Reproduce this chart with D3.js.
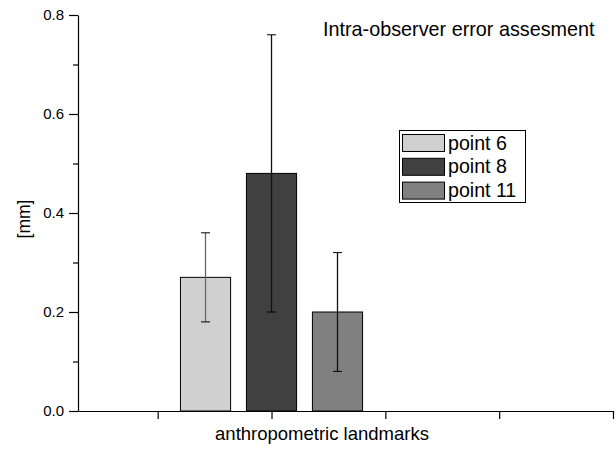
<!DOCTYPE html>
<html>
<head>
<meta charset="utf-8">
<script src="https://cdn.jsdelivr.net/npm/d3@7"></script>
<style>
    body { margin: 0; background: #ffffff; }
    svg { display: block; font-family: Arial, "Liberation Sans", sans-serif; }
</style>
</head>
<body>
<div id="chart"></div>
<script>
// data
const seriesNames = ["point 6", "point 8", "point 11"];
const seriesValues = [0.27, 0.48, 0.20];
const seriesErrors = [0.09, 0.28, 0.12];
const seriesColors = ["#d0d0d0", "#404040", "#808080"];
const groupPosition = 2;
const yMajorTicks = [0, 0.2, 0.4, 0.6, 0.8];
const yMinorTicks = [0.1, 0.3, 0.5, 0.7];
const xTicks = [1, 2, 3, 4, 5];

const width = 615;
const height = 450;
const margin = {top: 15, right: 2, bottom: 39, left: 78};

function drawChart() {
    const svg = d3.select("#chart").append("svg")
        .attr("width", width)
        .attr("height", height);

    // scales
    const xScale = d3.scaleLinear()
        .domain([0.3, 5])
        .range([margin.left, width - margin.right]);

    const yScale = d3.scaleLinear()
        .domain([0, 0.8])
        .range([height - margin.bottom, margin.top]);

    // bars inside the single group sit on a band scale around x = 2
    const groupWidth = 1.6;
    const barScale = d3.scaleBand()
        .domain(seriesNames)
        .range([xScale(groupPosition - groupWidth / 2), xScale(groupPosition + groupWidth / 2)])
        .paddingInner(0.24);

    // y axis: major + minor ticks
    svg.append("g")
        .attr("transform", `translate(${margin.left},0)`)
        .call(d3.axisLeft(yScale).tickValues(yMinorTicks).tickSize(5).tickFormat(""))
        .call(g => g.select(".domain").remove());

    const yAxis = svg.append("g")
        .attr("transform", `translate(${margin.left},0)`)
        .call(d3.axisLeft(yScale)
            .tickValues(yMajorTicks)
            .tickSize(9)
            .tickSizeOuter(0)
            .tickPadding(5)
            .tickFormat(d3.format(".1f")));
    yAxis.selectAll("text").style("font-size", "15px").attr("fill", "#000");

    // x axis, ticks only
    svg.append("g")
        .attr("transform", `translate(0,${yScale(0)})`)
        .call(d3.axisBottom(xScale).tickValues(xTicks).tickSize(8).tickSizeOuter(0).tickFormat(""));

    svg.selectAll(".domain, .tick line").attr("stroke", "#000").attr("stroke-width", 1.2);

    // bars
    svg.selectAll("rect.bar")
        .data(seriesNames)
        .enter().append("rect")
        .attr("class", "bar")
        .attr("x", d => barScale(d))
        .attr("y", (d, i) => yScale(seriesValues[i]))
        .attr("width", barScale.bandwidth())
        .attr("height", (d, i) => yScale(0) - yScale(seriesValues[i]))
        .attr("fill", (d, i) => seriesColors[i])
        .attr("stroke", "#000")
        .attr("stroke-width", 1);

    // error bars
    const errors = svg.append("g").attr("stroke", "#000").attr("stroke-width", 1);
    const capHalf = 4.5;
    seriesNames.forEach((name, i) => {
        const cx = barScale(name) + barScale.bandwidth() / 2;
        const top = yScale(seriesValues[i] + seriesErrors[i]);
        const bottom = yScale(seriesValues[i] - seriesErrors[i]);
        errors.append("line").attr("x1", cx).attr("x2", cx).attr("y1", top).attr("y2", bottom)
            .attr("stroke", i === 0 ? "#666" : "#111")
            .attr("stroke-width", 1.3);
        errors.append("line").attr("x1", cx - capHalf).attr("x2", cx + capHalf).attr("y1", top).attr("y2", top);
        errors.append("line").attr("x1", cx - capHalf).attr("x2", cx + capHalf).attr("y1", bottom).attr("y2", bottom);
    });

    // axis titles
    svg.append("text")
        .attr("x", 322)
        .attr("y", 440)
        .attr("text-anchor", "middle")
        .style("font-size", "18.5px")
        .text("anthropometric landmarks");

    svg.append("text")
        .attr("transform", `translate(30,${(yScale(0) + yScale(0.8)) / 2 + 6}) rotate(-90)`)
        .attr("text-anchor", "middle")
        .style("font-size", "17.5px")
        .text("[mm]");

    // chart title
    svg.append("text")
        .attr("x", 323)
        .attr("y", 36)
        .style("font-size", "19.8px")
        .text("Intra-observer error assesment");

    // legend
    const legend = svg.append("g").attr("transform", "translate(399,130)");
    legend.append("rect")
        .attr("x", 0.5).attr("y", 0.5)
        .attr("width", 126).attr("height", 72)
        .attr("fill", "#fff")
        .attr("stroke", "#000");
    const rowHeight = 23.8;
    const rows = legend.selectAll("g.row")
        .data(seriesNames)
        .enter().append("g")
        .attr("class", "row")
        .attr("transform", (d, i) => `translate(0,${4 + i * rowHeight})`);
    rows.append("rect")
        .attr("x", 3.5).attr("y", 0.5)
        .attr("width", 42).attr("height", 17)
        .attr("fill", (d, i) => seriesColors[i])
        .attr("stroke", "#000");
    rows.append("text")
        .attr("x", 49)
        .attr("y", 15.5)
        .style("font-size", "19.6px")
        .text(d => d);
}

drawChart();
</script>
</body>
</html>
